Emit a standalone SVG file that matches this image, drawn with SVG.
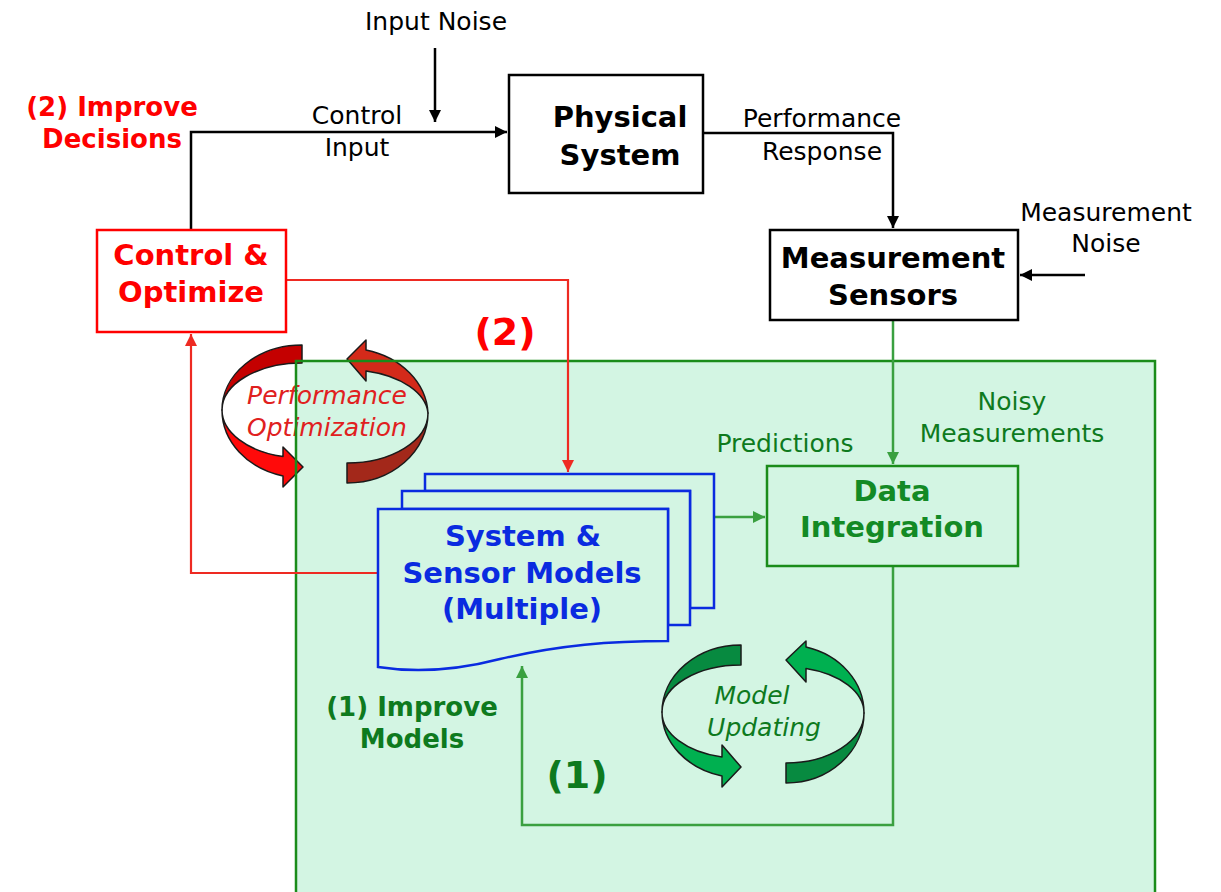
<svg xmlns="http://www.w3.org/2000/svg" width="1221" height="892" viewBox="0 0 1221 892">
<defs>
<style>
.reg{font-family:"DejaVu Sans","Liberation Sans",sans-serif;font-size:25px;text-anchor:middle}
.bold{font-family:"DejaVu Sans","Liberation Sans",sans-serif;font-weight:bold;font-size:29px;text-anchor:middle}
.side{font-family:"DejaVu Sans","Liberation Sans",sans-serif;font-weight:bold;font-size:26px;text-anchor:middle}
.ital{font-family:"DejaVu Sans","Liberation Sans",sans-serif;font-style:italic;font-size:25px;text-anchor:middle}
.blk{fill:none;stroke:#000;stroke-width:2.5}
.gl{fill:none;stroke:#3aa040;stroke-width:2.5}
.rl{fill:none;stroke:#ee2a22;stroke-width:2.2}
.rib{stroke:#1a1a1a;stroke-width:1.5;stroke-linejoin:round}
</style>
<marker id="ab" viewBox="0 0 10 10" refX="10" refY="5" markerWidth="12" markerHeight="12" markerUnits="userSpaceOnUse" orient="auto"><path d="M0,0 L10,5 L0,10 Z" fill="#000"/></marker>
<marker id="ag" viewBox="0 0 10 10" refX="10" refY="5" markerWidth="12" markerHeight="12" markerUnits="userSpaceOnUse" orient="auto"><path d="M0,0 L10,5 L0,10 Z" fill="#3aa040"/></marker>
<marker id="ar" viewBox="0 0 10 10" refX="10" refY="5" markerWidth="12" markerHeight="12" markerUnits="userSpaceOnUse" orient="auto"><path d="M0,0 L10,5 L0,10 Z" fill="#ee2a22"/></marker>
</defs>
<rect width="1221" height="892" fill="#fff"/>

<g id="model-region-fill">
<rect x="296" y="361" width="859" height="540" fill="#d3f5e3"/>
</g>

<g id="perf-optimization">
<path class="rib" fill="#c40000" d="M302,345 A80,65 0 0 0 222,410 A80,47 0 0 1 302,363 Z"/>
<path class="rib" fill="#ff0a0a" d="M222,410 A80,68 0 0 0 283,476 L283,487 L303,467 L283,447 L283,456.6 A80,48 0 0 1 222,410 Z"/>
<path class="rib" fill="#a3281a" d="M347,483 A81,70 0 0 0 428,413 A81,50 0 0 1 347,463 Z"/>
<path class="rib" fill="#d42a1a" d="M428,413 A81,68 0 0 0 366,350 L366,340 L347,359 L366,381 L366,371 A81,46 0 0 1 428,413 Z"/>
<text class="ital" x="327" y="404" fill="#e02020">Performance</text>
<text class="ital" x="327" y="436" fill="#e02020">Optimization</text>
</g>

<g id="model-region-border">
<rect x="296" y="361" width="859" height="540" fill="none" stroke="#1a8c1a" stroke-width="2.5"/>
</g>

<g id="connectors">
<polyline class="blk" points="191,230 191,132 507,132" marker-end="url(#ab)"/>
<line class="blk" x1="435" y1="48" x2="435" y2="122" marker-end="url(#ab)"/>
<polyline class="blk" points="703,133 893,133 893,228" marker-end="url(#ab)"/>
<line class="blk" x1="1085" y1="275" x2="1020" y2="275" marker-end="url(#ab)"/>
<line class="gl" x1="893" y1="320" x2="893" y2="464" marker-end="url(#ag)"/>
<line class="gl" x1="715" y1="517" x2="765" y2="517" marker-end="url(#ag)"/>
<polyline class="gl" points="893,566 893,825 522,825 522,666" marker-end="url(#ag)"/>
<polyline class="rl" points="286,280 568,280 568,472" marker-end="url(#ar)"/>
<polyline class="rl" points="378,573 191,573 191,334" marker-end="url(#ar)"/>
</g>

<g id="physical-system">
<rect x="509" y="75" width="194" height="118" fill="#fff" stroke="#000" stroke-width="2.5"/>
<text class="bold" x="620" y="127">Physical</text>
<text class="bold" x="620" y="165">System</text>
</g>

<g id="measurement-sensors">
<rect x="770" y="230" width="248" height="90" fill="#fff" stroke="#000" stroke-width="2.5"/>
<text class="bold" x="893" y="268">Measurement</text>
<text class="bold" x="893" y="305">Sensors</text>
</g>

<g id="control-optimize">
<rect x="97" y="230" width="189" height="102" fill="#fff" stroke="#ff0000" stroke-width="2.5"/>
<text class="bold" x="191" y="265" fill="#ff0000">Control &amp;</text>
<text class="bold" x="191" y="302" fill="#ff0000">Optimize</text>
</g>

<g id="data-integration">
<rect x="767" y="466" width="251" height="100" fill="#d3f5e3" stroke="#1a8c1a" stroke-width="2.5"/>
<text class="bold" x="892" y="501" fill="#138a25">Data</text>
<text class="bold" x="892" y="537" fill="#138a25">Integration</text>
</g>

<g id="system-sensor-models" fill="#d3f5e3" stroke="#0a2be0" stroke-width="2.5">
<path d="M425,474 H714 V608 H690 V491 H425 Z"/>
<path d="M402,491 H690 V625 H668 V509 H402 Z"/>
<path d="M378,509 H668 V641 C610,641 560,645 500,659 C450,672 410,672 378,667 Z"/>
<text class="bold" x="523" y="546" fill="#0a2be0" stroke="none">System &amp;</text>
<text class="bold" x="522" y="583" fill="#0a2be0" stroke="none">Sensor Models</text>
<text class="bold" x="522" y="619" fill="#0a2be0" stroke="none">(Multiple)</text>
</g>

<g id="model-updating">
<path class="rib" fill="#078a40" d="M741,645 A79,67 0 0 0 662,712 A79,47 0 0 1 741,665 Z"/>
<path class="rib" fill="#00b050" d="M662,712 A79,66 0 0 0 722,776 L722,787 L741,767 L722,745 L722,757 A79,46 0 0 1 662,712 Z"/>
<path class="rib" fill="#078a40" d="M786,783 A78,70 0 0 0 864,713 A78,50 0 0 1 786,763 Z"/>
<path class="rib" fill="#00b050" d="M864,713 A78,68 0 0 0 806,647 L806,641 L786,660 L806,682 L806,668.5 A78,46 0 0 1 864,713 Z"/>
<text class="ital" x="752" y="704" fill="#0e7a1e">Model</text>
<text class="ital" x="764" y="736" fill="#0e7a1e">Updating</text>
</g>

<g id="labels">
<text class="reg" x="436" y="30">Input Noise</text>
<text class="reg" x="357" y="124">Control</text>
<text class="reg" x="357" y="156">Input</text>
<text class="reg" x="822" y="127">Performance</text>
<text class="reg" x="822" y="160">Response</text>
<text class="reg" x="1106" y="221">Measurement</text>
<text class="reg" x="1106" y="252">Noise</text>
<text class="side" x="112" y="116" fill="#ff0000">(2) Improve</text>
<text class="side" x="112" y="148" fill="#ff0000">Decisions</text>
<text class="side" x="505" y="345" fill="#ff0000" style="font-size:38px">(2)</text>
<text class="reg" x="1012" y="410" fill="#0e7a1e">Noisy</text>
<text class="reg" x="1012" y="442" fill="#0e7a1e">Measurements</text>
<text class="reg" x="785" y="452" fill="#0e7a1e">Predictions</text>
<text class="side" x="412" y="716" fill="#0e7a1e">(1) Improve</text>
<text class="side" x="412" y="748" fill="#0e7a1e">Models</text>
<text class="side" x="577" y="788" fill="#0e7a1e" style="font-size:38px">(1)</text>
</g>
</svg>
